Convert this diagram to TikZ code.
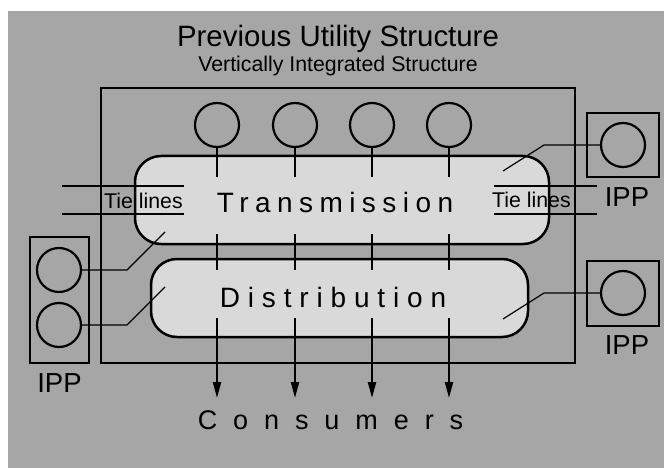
\documentclass[tikz,border=0pt]{standalone}
\usepackage{fontspec}
\setmainfont{Liberation Sans}
\usetikzlibrary{arrows.meta,positioning}
\definecolor{panel}{RGB}{166,166,166}
\definecolor{blockfill}{RGB}{217,217,217}

\begin{document}
\begin{tikzpicture}[x=1pt, y=-1pt,
  frame/.style={rectangle, draw, line width=2.6pt, inner sep=0pt},
  sector/.style={rectangle, draw, line width=2.5pt, fill=blockfill,
                 rounded corners=26pt, inner sep=0pt},
  gen/.style={circle, draw, line width=2.2pt, minimum size=44pt, inner sep=0pt},
  ippbox/.style={rectangle, draw, line width=2.5pt, inner sep=0pt},
  stem/.style={line width=2.2pt},
  feed/.style={line width=2.2pt, -{Triangle[length=16pt, width=8pt]}},
  tie/.style={line width=1.2pt},
  lbl/.style={anchor=base, inner sep=0pt, font=\fontsize{27.5}{30}\selectfont},
  small/.style={anchor=base, inner sep=0pt, font=\fontsize{21.3}{24}\selectfont},
  spaced/.style={anchor=base, inner sep=0pt,
                 font=\fontsize{28}{30}\selectfont\addfontfeatures{LetterSpace=#1}}
]
\useasboundingbox (0,0) rectangle (664,468);
\fill[panel] (8,11) rectangle (664,468);

% ── Titles ───────────────────────────
\node[anchor=base, inner sep=0pt, font=\fontsize{29.4}{32}\selectfont] (title)
  at (338,47) {Previous Utility Structure};
\node[small] (subtitle) at (338,72) {Vertically Integrated Structure};

% ── Utility frame and sectors ────────
\node[frame, minimum width=474pt, minimum height=275pt] (utility) at (338,225.5) {};

\node[sector, minimum width=414pt, minimum height=88pt] (trans) at (342,200) {};
\node[sector, minimum width=377pt, minimum height=78pt] (dist) at (339.5,298) {};
\node[spaced=23] (transtext) at (335,212) {Transmission};
\node[spaced=28] (disttext) at (333,307) {Distribution};

% ── Generators and feeders ───────────
\foreach \x [count=\i] in {217,295,372,449} {
  \node[gen] (gen\i) at (\x,125) {};
  \coordinate (tin\i) at (\x,177);
  \coordinate (tout\i) at (\x,234);
  \coordinate (din\i) at (\x,270);
  \coordinate (dout\i) at (\x,318);
  \coordinate (load\i) at (\x,398);
}
\foreach \i in {1,...,4} {
  \draw[stem] (gen\i.south) -- (tin\i);
  \draw[stem] (tout\i) -- (din\i);
  \draw[feed] (dout\i) -- (load\i);
}

\node[anchor=base, inner sep=0pt,
      font=\fontsize{27}{30}\selectfont\addfontfeatures{LetterSpace=59}]
  (consumers) at (330.5,429) {Consumers};

% ── IPPs ─────────────────────────────
\node[ippbox, minimum width=72pt, minimum height=64pt] (ippR1) at (623,145) {};
\node[gen] (plantR1) at (623,145) {};
\node[lbl] (ippR1lbl) at (627,206) {IPP};

\node[ippbox, minimum width=72pt, minimum height=65pt] (ippR2) at (623,293.5) {};
\node[gen] (plantR2) at (623,293) {};
\node[lbl] (ippR2lbl) at (627,354) {IPP};

\node[ippbox, minimum width=59pt, minimum height=126pt] (ippL) at (59.5,300) {};
\node[gen] (plantL1) at (59,270) {};
\node[gen] (plantL2) at (59,325) {};
\node[lbl] (ippLlbl) at (59.5,392) {IPP};

% ── Tie lines ────────────────────────
\foreach \y [count=\k] in {186,214} {
  \coordinate (tieLa\k) at (62,\y);
  \coordinate (tieLb\k) at (184,\y);
  \coordinate (tieRa\k) at (494,\y);
  \coordinate (tieRb\k) at (597,\y);
  \draw[tie] (tieLa\k) -- (tieLb\k);
  \draw[tie] (tieRa\k) -- (tieRb\k);
}
\node[small] (tieL) at (143.5,208) {Tie lines};
\node[small] (tieR) at (531.5,207) {Tie lines};

% ── IPP connections ──────────────────
\coordinate (r1bend) at (544,145);  \coordinate (r1end) at (503,171);
\coordinate (r2bend) at (544,293);  \coordinate (r2end) at (503,319);
\coordinate (l1bend) at (127,270);  \coordinate (l1end) at (165,232);
\coordinate (l2bend) at (127,325);  \coordinate (l2end) at (165,287);
\draw[tie] (plantR1.west) -- (r1bend) -- (r1end);
\draw[tie] (plantR2.west) -- (r2bend) -- (r2end);
\draw[tie] (plantL1.east) -- (l1bend) -- (l1end);
\draw[tie] (plantL2.east) -- (l2bend) -- (l2end);

\end{tikzpicture}
\end{document}
